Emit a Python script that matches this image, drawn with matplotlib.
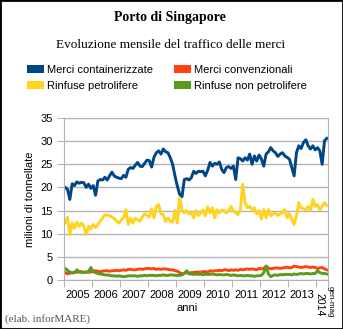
import numpy as np
import matplotlib.pyplot as plt
from matplotlib.patches import Patch, Rectangle

# monthly values, gen 2005 - mag 2014 (milioni di tonnellate)
years = ['2005', '2006', '2007', '2008', '2009', '2010', '2011', '2012', '2013']
last_label = ['gen-mag', '2014']

containerizzate = [
    20.0, 19.6, 17.4, 20.8, 20.4, 21.2, 20.9, 21.1, 21.0, 20.0, 20.7, 19.8,
    20.4, 18.3, 21.4, 21.7, 21.6, 22.2, 21.6, 22.5, 23.3, 22.5, 22.2, 22.0,
    21.9, 22.6, 22.2, 23.9, 24.3, 24.1, 24.8, 25.4, 24.6, 24.5, 25.2, 25.9,
    25.8, 24.4, 26.5, 27.5, 27.9, 27.2, 28.3, 27.7, 27.5, 26.4, 25.0, 22.5,
    20.3, 18.5, 18.0, 21.7, 21.9, 21.6, 22.1, 23.5, 23.0, 23.5, 23.4, 23.5,
    22.5, 23.7, 25.4, 24.6, 25.2, 25.0, 25.5, 23.9, 23.2, 24.3, 24.5, 24.1,
    24.6, 21.7, 26.4, 26.2, 25.7, 26.4, 25.9, 27.2, 25.0, 26.8, 25.7, 27.0,
    26.1, 24.6, 27.2, 27.7, 28.6, 27.9, 27.5, 26.7, 27.2, 27.5, 26.8, 26.5,
    26.1, 24.3, 22.5, 27.5, 29.0, 28.4, 29.7, 30.3, 29.0, 28.3, 29.0, 28.1,
    28.6, 27.9, 25.0, 30.1, 30.6,
]
convenzionali = [
    1.6, 1.3, 1.5, 1.6, 1.6, 1.7, 1.8, 1.8, 1.7, 1.7, 1.7, 1.7,
    1.9, 2.0, 1.9, 1.8, 1.9, 2.0, 2.0, 1.9, 2.0, 2.0, 2.1, 2.0,
    2.1, 2.2, 2.1, 2.3, 2.3, 2.2, 2.2, 2.3, 2.4, 2.3, 2.4, 2.5,
    2.5, 2.4, 2.5, 2.3, 2.4, 2.3, 2.4, 2.4, 2.3, 2.2, 2.2, 2.0,
    1.9, 1.6, 1.3, 1.5, 1.6, 1.5, 1.6, 1.6, 1.7, 1.7, 1.7, 1.8,
    1.8, 1.7, 2.0, 1.9, 2.0, 2.0, 2.1, 2.0, 2.2, 2.2, 2.0, 2.2,
    2.1, 2.2, 2.1, 2.3, 2.2, 2.3, 2.4, 2.3, 2.4, 2.3, 2.2, 2.5,
    2.4, 2.5, 3.0, 2.6, 2.4, 2.5, 2.6, 2.6, 2.5, 2.6, 2.7, 2.8,
    2.6, 2.7, 3.0, 2.9, 2.8, 2.7, 2.8, 2.9, 2.8, 2.7, 2.8, 2.7,
    2.5, 2.6, 2.7, 2.4, 2.2,
]
petrolifere = [
    12.3, 13.6, 9.8, 12.3, 11.2, 12.5, 11.6, 12.3, 11.6, 9.8, 11.6, 11.0,
    12.0, 11.3, 12.0, 12.7, 13.4, 14.1, 14.0, 13.9, 13.6, 13.3, 12.7, 12.3,
    13.0, 13.5, 15.2, 12.0, 13.4, 12.3, 13.4, 13.0, 12.7, 13.6, 14.3, 14.0,
    13.6, 15.4, 13.4, 15.9, 16.3, 14.3, 14.1, 12.7, 13.4, 12.7, 12.5, 15.0,
    12.3, 17.8, 15.2, 14.5, 15.0, 14.3, 14.5, 13.4, 15.0, 13.9, 14.5, 15.1,
    13.9, 15.8, 14.5, 15.6, 13.4, 15.2, 14.5, 15.1, 15.0, 14.5, 15.0, 15.9,
    15.0, 14.5, 14.1, 15.2, 20.7, 16.7, 15.6, 15.9, 15.1, 15.6, 14.3, 15.0,
    13.2, 15.2, 13.4, 15.2, 13.9, 14.3, 14.5, 13.9, 14.3, 14.5, 15.2, 13.4,
    14.3, 13.0, 12.0, 13.9, 16.7, 15.6, 15.4, 15.2, 15.9, 15.0, 17.4, 15.9,
    16.3, 15.1, 15.9, 16.7, 16.1,
]
non_petrolifere = [
    2.5, 2.1, 1.7, 1.5, 1.6, 2.2, 1.7, 1.7, 1.6, 1.7, 1.8, 2.7,
    1.8, 1.6, 1.4, 1.3, 1.2, 1.1, 1.1, 1.0, 0.9, 0.9, 0.8, 0.9,
    0.8, 0.7, 0.8, 0.9, 0.9, 0.9, 0.9, 0.8, 0.9, 0.9, 1.0, 0.9,
    1.0, 1.0, 1.0, 0.9, 1.0, 1.0, 1.1, 1.0, 1.0, 1.1, 1.1, 1.0,
    1.0, 1.0, 1.1, 1.4, 2.0, 1.3, 1.3, 1.2, 1.3, 1.2, 1.3, 1.1,
    1.3, 1.2, 1.2, 1.3, 1.2, 1.1, 1.2, 1.1, 1.1, 1.2, 1.1, 1.0,
    1.1, 1.0, 0.9, 1.0, 0.9, 0.9, 1.0, 0.9, 0.9, 0.8, 0.9, 0.9,
    1.0, 1.6, 3.0, 1.3, 0.7, 1.0, 1.1, 1.0, 1.2, 1.1, 1.2, 1.2,
    1.2, 1.1, 1.3, 1.2, 1.3, 1.4, 1.3, 1.4, 1.4, 1.3, 1.4, 1.4,
    2.0, 1.6, 1.4, 1.4, 1.3,
]

series = [
    ('Merci containerizzate', containerizzate, '#004586'),
    ('Merci convenzionali', convenzionali, '#ff420e'),
    ('Rinfuse petrolifere', petrolifere, '#ffd320'),
    ('Rinfuse non petrolifere', non_petrolifere, '#579d1c'),
]

plt.rcParams['font.family'] = ['Liberation Sans', 'DejaVu Sans']
grey = '#b3b3b3'

W, H = 343, 329
fig = plt.figure(figsize=(W / 100, H / 100), dpi=100)
ax = fig.add_axes([64 / W, 1 - 280 / H, (328 - 64) / W, (280 - 118) / H])

n = len(containerizzate)
x = np.arange(n)
for label, vals, color in series:
    ax.plot(x, vals, color=color, lw=2.1, solid_joinstyle='round')

ax.set_xlim(-0.5, n - 0.5)
ax.set_ylim(0, 35)
ax.set_yticks(np.arange(0, 36, 5))
ax.yaxis.grid(True, color=grey, lw=1)
ax.set_axisbelow(True)
for sp in ax.spines.values():
    sp.set_color(grey)

# year boundaries as major ticks, year names centred between them
bounds = [-0.5 + 12 * k for k in range(len(years) + 1)] + [n - 0.5]
ax.set_xticks(bounds)
ax.set_xticklabels([])
ax.set_xticks([5.5 + 12 * k for k in range(len(years))], minor=True)
ax.set_xticklabels(years, minor=True)
ax.tick_params(axis='x', which='major', length=5, color=grey)
ax.tick_params(axis='x', which='minor', length=0, pad=7, labelsize=8)
ax.tick_params(axis='y', length=5, color=grey, pad=3, labelsize=8)

# last (partial) year: two rotated lines, "gen-mag" squeezed on the right
last_x = (bounds[-2] + bounds[-1]) / 2
ax.annotate(last_label[1], xy=(last_x, 0), xycoords=('data', 'axes fraction'),
            xytext=(-1.6, -9.4), textcoords='offset points', rotation=270,
            ha='center', va='top', fontsize=7.5, annotation_clip=False)
ax.annotate(last_label[0], xy=(last_x, 0), xycoords=('data', 'axes fraction'),
            xytext=(5.4, -4.3), textcoords='offset points', rotation=270,
            ha='center', va='top', fontsize=5.8, annotation_clip=False)

ax.set_ylabel('milioni di tonnellate', fontsize=8)
ax.yaxis.set_label_coords(-0.11, 0.5)
ax.set_xlabel('anni', fontsize=8)
ax.xaxis.set_label_coords(0.466, -0.14)

fig.text(170 / W, 1 - 18 / H, 'Porto di Singapore', family='Liberation Serif',
         weight='bold', fontsize=10, ha='center', va='center')
fig.text(171 / W, 1 - 45 / H, 'Evoluzione mensile del traffico delle merci',
         family='Liberation Serif', fontsize=9.5, ha='center', va='center')

order = [0, 2, 1, 3]
handles = [Patch(facecolor=series[i][2], edgecolor='none') for i in order]
labels = [series[i][0] for i in order]
fig.legend(handles, labels, ncol=2, loc='upper left',
           bbox_to_anchor=(27 / W, 1 - 65 / H), frameon=False, fontsize=8,
           borderpad=0, borderaxespad=0, handlelength=1.55, handleheight=0.72,
           handletextpad=0.25, columnspacing=1.9, labelspacing=0.5)

fig.text(5 / W, 1 - 319 / H, '(elab. inforMARE)', family='Liberation Serif',
         fontsize=8, color='#555555', va='center')

fig.patches.append(Rectangle((0, 0), 1, 1, transform=fig.transFigure,
                             fill=False, edgecolor='black', lw=2))

fig.savefig('out.png', dpi=100)
